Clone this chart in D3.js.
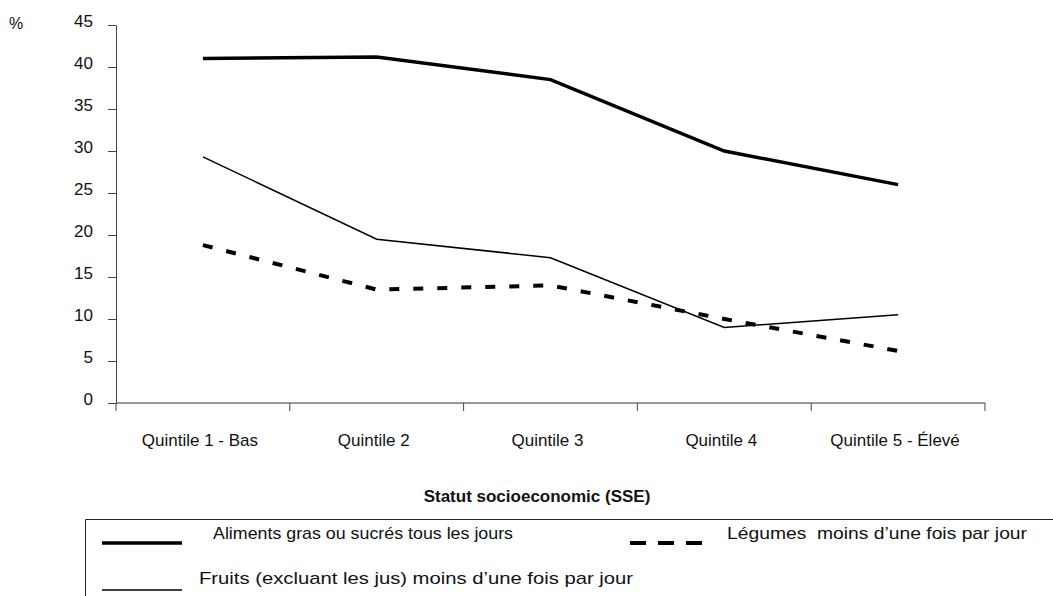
<!DOCTYPE html>
<html>
<head>
<meta charset="utf-8">
<script src="https://cdn.jsdelivr.net/npm/d3@7"></script>
<style>
  body { margin: 0; background: #fff; }
  svg text { font-family: "Liberation Sans", Arial, sans-serif; fill: #111; }
</style>
</head>
<body>
<div id="chart"></div>
<script>
// Data
var categories = ["Quintile 1 - Bas", "Quintile 2", "Quintile 3", "Quintile 4", "Quintile 5 - Élevé"];
var alimentsGras = [41.0, 41.2, 38.5, 30.0, 26.0];
var fruits = [29.3, 19.5, 17.3, 9.0, 10.5];
var legumes = [18.8, 13.5, 14.0, 10.0, 6.2];
var yTicks = [0, 5, 10, 15, 20, 25, 30, 35, 40, 45];

var series = [
  { name: "Aliments gras ou sucrés tous les jours", values: alimentsGras, width: 3.5, dash: null },
  { name: "Fruits (excluant les jus) moins d\u2019une fois par jour", values: fruits, width: 1.5, dash: null },
  { name: "Légumes  moins d\u2019une fois par jour", values: legumes, width: 4, dash: "10,14" }
];

var W = 1053, H = 596;
var svg = d3.select("#chart").append("svg").attr("width", W).attr("height", H);

var x = d3.scaleBand().domain(categories).range([116, 985]).padding(0);
var y = d3.scaleLinear().domain([0, 45]).range([403, 25]);

// Y axis
var yAxis = svg.append("g")
  .attr("transform", "translate(116,0)")
  .call(d3.axisLeft(y).tickValues(yTicks).tickSize(8).tickSizeOuter(0).tickPadding(15));
yAxis.selectAll("text").attr("font-size", 17).attr("dy", "0.1em").style("font-family", "Liberation Sans, Arial, sans-serif").attr("fill", "#111");
yAxis.select(".domain").attr("stroke", "#444");
yAxis.selectAll(".tick line").attr("stroke", "#444");

svg.append("text").attr("x", 9).attr("y", 29).attr("font-size", 16).text("%");

// X axis: line, ticks at band edges, labels centred
var xg = svg.append("g");
xg.append("line")
  .attr("x1", x.range()[0]).attr("x2", x.range()[1])
  .attr("y1", y(0)).attr("y2", y(0))
  .attr("stroke", "#333");
var edges = categories.map(function (c) { return x(c); }).concat([x.range()[1]]);
xg.selectAll(".xt").data(edges).join("line")
  .attr("x1", function (d) { return d; }).attr("x2", function (d) { return d; })
  .attr("y1", y(0)).attr("y2", y(0) + 8)
  .attr("stroke", "#444");
xg.selectAll(".xl").data(categories).join("text")
  .attr("x", function (d) { return x(d) + x.bandwidth() / 2 - 3; })
  .attr("y", 446)
  .attr("text-anchor", "middle")
  .attr("font-size", 17)
  .text(function (d) { return d; });

svg.append("text")
  .attr("x", 537).attr("y", 502)
  .attr("text-anchor", "middle")
  .attr("font-size", 17)
  .attr("font-weight", "bold")
  .text("Statut socioeconomic (SSE)");

// Lines
var line = d3.line()
  .x(function (d, i) { return x(categories[i]) + x.bandwidth() / 2; })
  .y(function (d) { return y(d); });

series.forEach(function (s) {
  svg.append("path")
    .datum(s.values)
    .attr("fill", "none")
    .attr("stroke", "#000")
    .attr("stroke-width", s.width)
    .attr("stroke-dasharray", s.dash)
    .attr("d", line);
});

// Legend box (open to the right and bottom)
var lg = svg.append("g");
lg.append("path")
  .attr("d", "M85.5," + H + "V519.5H" + W)
  .attr("fill", "none")
  .attr("stroke", "#222");

var legendItems = [
  { s: series[0], lx: 102, ly: 543, tx: 213, ty: 539, len: 300, dash: null },
  { s: series[2], lx: 630, ly: 543, tx: 727, ty: 539, len: 300, dash: "16,12" },
  { s: series[1], lx: 102, ly: 590, tx: 199, ty: 584, len: 434, dash: null }
];
legendItems.forEach(function (it) {
  lg.append("line")
    .attr("x1", it.lx).attr("x2", it.lx + (it.dash ? 72 : 80))
    .attr("y1", it.ly).attr("y2", it.ly)
    .attr("stroke", "#000")
    .attr("stroke-width", it.s.width)
    .attr("stroke-dasharray", it.dash);
  lg.append("text")
    .attr("x", it.tx).attr("y", it.ty)
    .attr("font-size", 17)
    .attr("textLength", it.len)
    .attr("lengthAdjust", "spacingAndGlyphs")
    .style("white-space", "pre")
    .text(it.s.name);
});
</script>
</body>
</html>
